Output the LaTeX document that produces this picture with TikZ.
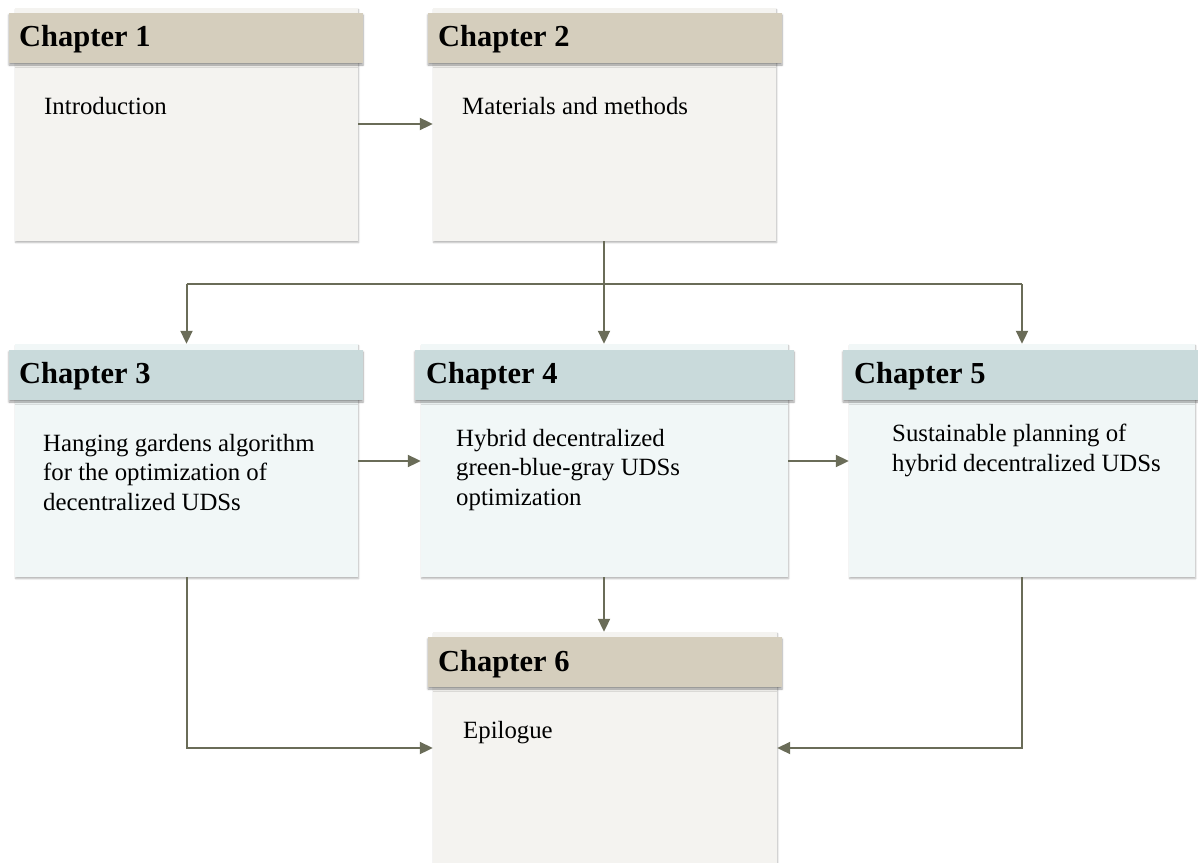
\documentclass[tikz,border=0pt]{standalone}
\usepackage{fontspec}
\setmainfont{Liberation Serif}
\usetikzlibrary{arrows.meta,shadows.blur}

\definecolor{hdrsand}{RGB}{213,206,189}
\definecolor{bodysand}{RGB}{244,243,240}
\definecolor{hdrsage}{RGB}{201,218,219}
\definecolor{bodysage}{RGB}{241,247,247}
\definecolor{linkcol}{RGB}{106,108,88}

\tikzset{
  panel/.style={rectangle, inner sep=0pt, draw=none,
    blur shadow={shadow xshift=0.6pt, shadow yshift=-1.6pt,
      shadow blur radius=1.6pt, shadow blur steps=4, shadow opacity=30}},
  header/.style={rectangle, inner sep=0pt, draw=none, minimum height=50pt,
    blur shadow={shadow xshift=0pt, shadow yshift=-2pt,
      shadow blur radius=2pt, shadow blur steps=4, shadow opacity=40}},
  hdrtext/.style={inner sep=0pt, anchor=base west,
    font=\fontsize{30.5}{36}\selectfont\bfseries},
  % multi-line texts are anchored at the baseline of their last line
  bodytext/.style={inner sep=0pt, anchor=base west, align=left,
    font=\fontsize{24.8}{29.3}\selectfont},
  link/.style={draw=linkcol, line width=2pt},
  arr/.style={link, -{Triangle[length=13pt,width=12pt]}},
}

\begin{document}
\begin{tikzpicture}[x=1pt,y=-1pt]
\useasboundingbox (0,0) rectangle (1198,862);

% chapter bodies
\node[panel, fill=bodysand, minimum width=343pt, minimum height=233pt] (b1) at (186.5,124.5) {};
\node[panel, fill=bodysand, minimum width=343pt, minimum height=233pt] (b2) at (604.5,124.5) {};
\node[panel, fill=bodysage, minimum width=343pt, minimum height=233pt] (b3) at (186.5,460.5) {};
\node[panel, fill=bodysage, minimum width=367pt, minimum height=233pt] (b4) at (604.5,460.5) {};
\node[panel, fill=bodysage, minimum width=346pt, minimum height=233pt] (b5) at (1022,460.5) {};
\node[panel, fill=bodysand, minimum width=344pt, minimum height=240pt] (b6) at (605,752) {};

% chapter headers
\node[header, fill=hdrsand, minimum width=354pt] (h1) at (186,38) {};
\node[header, fill=hdrsand, minimum width=354pt] (h2) at (605,38) {};
\node[header, fill=hdrsage, minimum width=354pt] (h3) at (186,375) {};
\node[header, fill=hdrsage, minimum width=379pt] (h4) at (604.5,375) {};
\node[header, fill=hdrsage, minimum width=358pt] (h5) at (1022,375) {};
\node[header, fill=hdrsand, minimum width=354pt] (h6) at (605,662) {};

% header titles
\node[hdrtext] (c1) at (19,46) {Chapter 1};
\node[hdrtext] (c2) at (438,46) {Chapter 2};
\node[hdrtext] (c3) at (19,383) {Chapter 3};
\node[hdrtext] (c4) at (426,383) {Chapter 4};
\node[hdrtext] (c5) at (854,383) {Chapter 5};
\node[hdrtext] (c6) at (438,671) {Chapter 6};

% body texts
\node[bodytext] (t1) at (44,114) {Introduction};
\node[bodytext] (t2) at (462,114) {Materials and methods};
\node[bodytext] (t3) at (43,510) {Hanging gardens algorithm\\for the optimization of\\decentralized UDSs};
\node[bodytext] (t4) at (456,505) {Hybrid decentralized\\green-blue-gray UDSs\\optimization};
\node[bodytext] (t5) at (892,471) {Sustainable planning of\\hybrid decentralized UDSs};
\node[bodytext] (t6) at (463,738) {Epilogue};

% connectors
\coordinate (split) at (604,284);
\coordinate (low) at (0,748);

\draw[arr] (b1.east |- 0,124) -- (b2.west |- 0,124);
\draw[link] (b2.south -| split) -- (split);
\draw[link] (split -| b3.south) -- (split -| b5.south);
\draw[arr] (split -| b3.north) -- (b3.north);
\draw[arr] (split) -- (b4.north -| split);
\draw[arr] (split -| b5.north) -- (b5.north);
\draw[arr] (b3.east |- 0,461) -- (b4.west |- 0,461);
\draw[arr] (b4.east |- 0,461) -- (b5.west |- 0,461);
\draw[arr] (b4.south -| split) -- (b6.north -| split);
\draw[arr] (b3.south) -- (b3.south |- low) -- (b6.west |- low);
\draw[arr] (b5.south) -- (b5.south |- low) -- (b6.east |- low);
\end{tikzpicture}
\end{document}
